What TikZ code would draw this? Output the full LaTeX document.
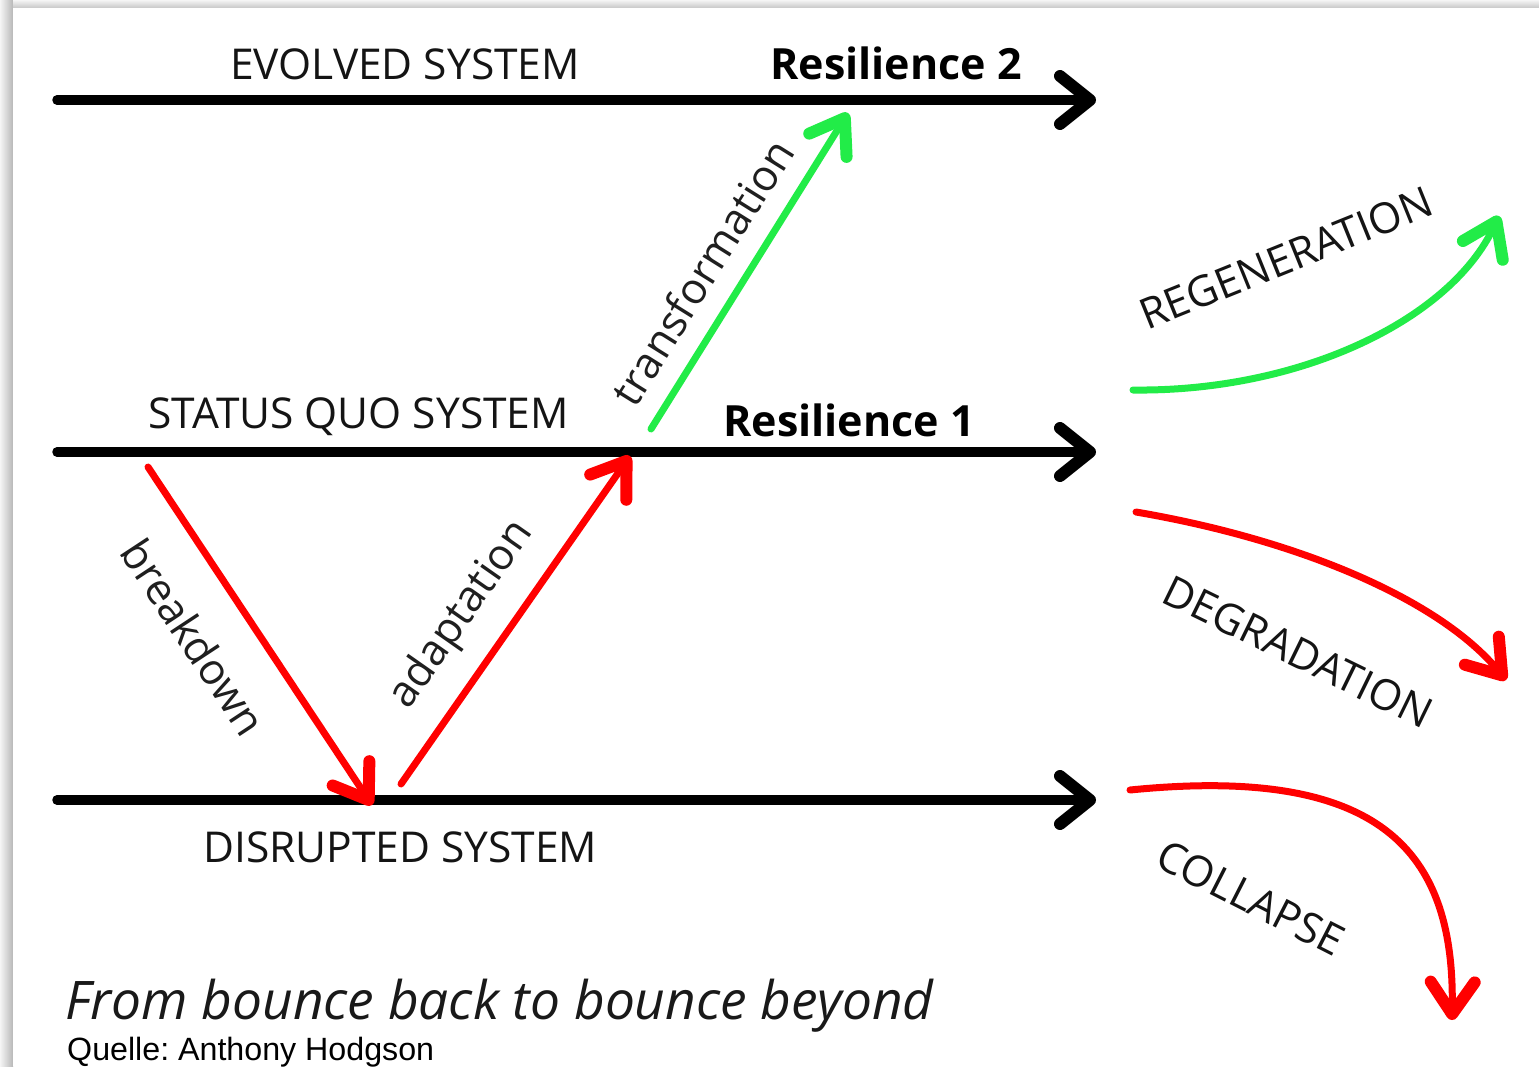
\documentclass[tikz,border=0pt]{standalone}
\usepackage{fontspec}
\setmainfont{Open Sans}
\newfontfamily\quellefont{Liberation Sans}
\usetikzlibrary{arrows.meta}
\definecolor{rgreen}{RGB}{34,236,72}
\definecolor{rred}{RGB}{255,0,0}
\begin{document}
\begin{tikzpicture}[x=1pt,y=-1pt,
  axisline/.style={line width=9.5pt,line cap=round,-{Straight Barb[length=30pt,width=48pt,line width=12pt,round]}},
  redarrow/.style={rred,line width=7pt,line cap=round,-{Straight Barb[length=32pt,width=44pt,line width=12pt,round]}},
  greenarrow/.style={rgreen,line width=7pt,line cap=round,-{Straight Barb[length=32pt,width=44pt,line width=12pt,round]}},
  capslabel/.style={inner sep=0pt,text=black!92,font=\fontsize{42.5}{48}\selectfont},
  boldlabel/.style={inner sep=0pt,text=black,font=\fontsize{43}{48}\selectfont\bfseries},
  smalllabel/.style={inner sep=0pt,text=black!88,font=\fontsize{43}{48}\selectfont},
  ]
\useasboundingbox (0,0) rectangle (1539,1066);
% frame with shadow
\shade[left color=black!4, right color=black!28] (0,0) rectangle (13,1066);
\shade[top color=black!4, bottom color=black!22] (13,0) rectangle (1539,8);
\fill[white] (13,8) rectangle (1539,1066);

% coordinates
\coordinate (e0) at (57,100);  \coordinate (e1) at (1096,100);
\coordinate (s0) at (57,452);  \coordinate (s1) at (1096,452);
\coordinate (d0) at (57,800);  \coordinate (d1) at (1096,800);
\coordinate (b0) at (148,467); \coordinate (b1) at (372,805);
\coordinate (a0) at (401,784); \coordinate (a1) at (630,456);
\coordinate (t0) at (651,429); \coordinate (t1) at (848,113);
\coordinate (r0) at (1133,390); \coordinate (r1) at (1499,216);
\coordinate (g0) at (1136,512); \coordinate (g1) at (1506,680);
\coordinate (c0) at (1130,790); \coordinate (c1) at (1452,1020);

% system lines
\draw[axisline] (e0) -- (e1);
\draw[axisline] (s0) -- (s1);
\draw[axisline] (d0) -- (d1);

% diagonal arrows
\draw[redarrow] (b0) -- (b1);
\draw[redarrow] (a0) -- (a1);
\draw[greenarrow] (t0) -- (t1);

% right curves
\draw[greenarrow] (r0) .. controls (1300,392) and (1450,320) .. (r1);
\draw[redarrow] (g0) .. controls (1300,540) and (1440,600) .. (g1);
\draw[redarrow] (c0) .. controls (1380,765) and (1455,850) .. (c1);

% labels
\node[capslabel,anchor=base west] (evolved) at (230,79) {EVOLVED SYSTEM};
\node[boldlabel,anchor=base west] (res2) at (770,79) {Resilience 2};
\node[capslabel,anchor=base west] (statusquo) at (148,428) {STATUS QUO SYSTEM};
\node[boldlabel,anchor=base west] (res1) at (723,436) {Resilience 1};
\node[capslabel,anchor=base west] (disrupted) at (203,862) {DISRUPTED SYSTEM};

\node[smalllabel,rotate=-56.6] (lbreak) at (194,637) {breakdown};
\node[smalllabel,rotate=55] (ladapt) at (462,615) {adaptation};
\node[smalllabel,rotate=58] (ltrans) at (702,272) {transformation};

\node[capslabel,rotate=22] (lregen) at (1286,258) {REGENERATION};
\node[capslabel,rotate=-26] (ldegrad) at (1298,652) {DEGRADATION};
\node[capslabel,rotate=-27] (lcollapse) at (1251,898) {COLLAPSE};

\node[inner sep=0pt,anchor=base west,text=black!90,font=\fontsize{53.2}{58}\selectfont\itshape] (caption) at (65,1019) {From bounce back to bounce beyond};
\node[inner sep=0pt,anchor=base west,text=black,font=\fontsize{32.2}{36}\selectfont\quellefont\frenchspacing] (quelle) at (67,1060) {Quelle: Anthony Hodgson};
\end{tikzpicture}
\end{document}
